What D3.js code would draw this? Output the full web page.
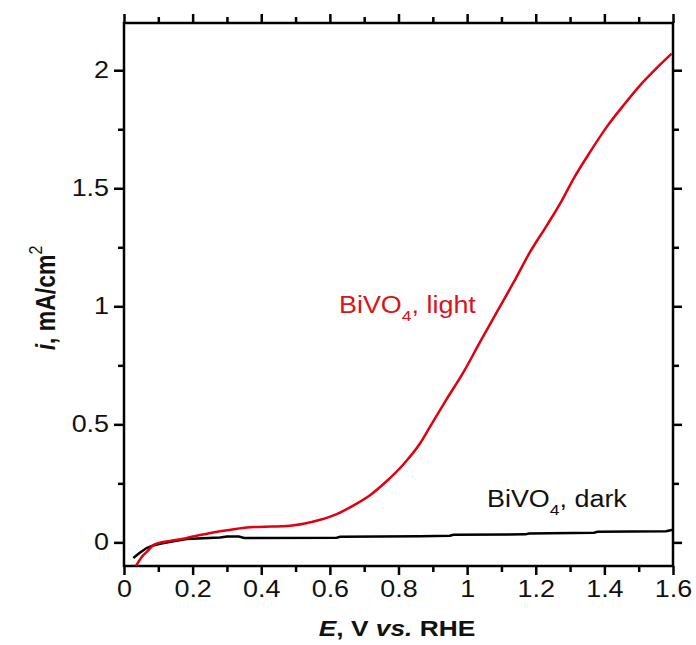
<!DOCTYPE html>
<html><head><meta charset="utf-8">
<script src="https://cdn.jsdelivr.net/npm/d3@7/dist/d3.min.js"></script>
<style>
html,body{margin:0;padding:0;background:#fff;}
svg{display:block;font-family:"Liberation Sans",Arial,Helvetica,sans-serif;}
</style></head>
<body>
<svg id="chart" width="696" height="645"></svg>
<script>
// Data
const lightE = [0.035,0.05,0.07,0.085,0.1,0.134,0.183,0.23,0.28,0.33,0.377,0.43,0.474,0.523,0.572,0.62,0.668,0.717,0.766,0.814,0.863,0.892,0.94,0.989,1.037,1.086,1.135,1.183,1.232,1.276,1.31,1.358,1.407,1.455,1.504,1.553,1.596];
const lightI = [-0.10,-0.065,-0.035,-0.012,-0.003,0.006,0.019,0.033,0.047,0.058,0.065,0.067,0.069,0.079,0.096,0.12,0.156,0.20,0.26,0.33,0.42,0.49,0.606,0.72,0.847,0.974,1.10,1.229,1.342,1.448,1.54,1.653,1.76,1.85,1.936,2.01,2.07];
const darkE = [0.027,0.045,0.066,0.085,0.105,0.14,0.183,0.23,0.28,0.3,0.335,0.35,0.62,0.63,0.863,0.95,0.96,1.17,1.18,1.37,1.38,1.58,1.6];
const darkI = [-0.066,-0.045,-0.024,-0.013,-0.006,0.004,0.014,0.018,0.021,0.025,0.025,0.019,0.02,0.024,0.026,0.028,0.032,0.034,0.038,0.041,0.045,0.047,0.054];
const xMajorTicks = [0,0.2,0.4,0.6,0.8,1,1.2,1.4,1.6];
const xMinorTicks = [0.1,0.3,0.5,0.7,0.9,1.1,1.3,1.5];
const yMajorTicks = [0,0.5,1,1.5,2];
const yMinorTicks = [0.25,0.75,1.25,1.75];

const SX = 1.17; // horizontal stretch of the original figure's lettering
const svg = d3.select("#chart");
const L = 124, R = 673, T = 23, B = 566;
const x = d3.scaleLinear().domain([0,1.6]).range([L,R]);
const y = d3.scaleLinear().domain([-0.1,2.2]).range([B,T]);
const fmt = d => d3.format("")(d);

function styleAxis(g){
  g.select(".domain").remove();
  g.selectAll(".tick line").attr("stroke","#000").attr("stroke-width",2.5);
  g.selectAll(".tick text").attr("font-size",23).attr("fill","#111")
    .attr("font-family","'Liberation Sans',Arial,sans-serif")
    .each(function(){
      const t = d3.select(this);
      const xv = +t.attr("x") || 0;
      t.attr("x", xv / SX).attr("transform",`scale(${SX},1)`);
    });
}
// bottom
svg.append("g").attr("transform",`translate(0,${B})`)
  .call(d3.axisBottom(x).tickValues(xMajorTicks).tickSize(9).tickPadding(6).tickFormat(fmt)).call(styleAxis);
svg.append("g").attr("transform",`translate(0,${B})`)
  .call(d3.axisBottom(x).tickValues(xMinorTicks).tickSize(6).tickFormat("")).call(styleAxis);
// top
svg.append("g").attr("transform",`translate(0,${T})`)
  .call(d3.axisTop(x).tickValues(xMajorTicks).tickSize(9).tickFormat("")).call(styleAxis);
svg.append("g").attr("transform",`translate(0,${T})`)
  .call(d3.axisTop(x).tickValues(xMinorTicks).tickSize(6).tickFormat("")).call(styleAxis);
// left
svg.append("g").attr("transform",`translate(${L},0)`)
  .call(d3.axisLeft(y).tickValues(yMajorTicks).tickSize(10).tickPadding(5).tickFormat(fmt)).call(styleAxis);
svg.append("g").attr("transform",`translate(${L},0)`)
  .call(d3.axisLeft(y).tickValues(yMinorTicks).tickSize(6).tickFormat("")).call(styleAxis);
// right
svg.append("g").attr("transform",`translate(${R},0)`)
  .call(d3.axisRight(y).tickValues(yMajorTicks).tickSize(9).tickFormat("")).call(styleAxis);
svg.append("g").attr("transform",`translate(${R},0)`)
  .call(d3.axisRight(y).tickValues(yMinorTicks).tickSize(6).tickFormat("")).call(styleAxis);

// frame
svg.append("rect").attr("x",L).attr("y",T).attr("width",R-L).attr("height",B-T)
  .attr("fill","none").attr("stroke","#000").attr("stroke-width",2.5);

svg.append("clipPath").attr("id","clip").append("rect")
  .attr("x",L).attr("y",T).attr("width",R-L).attr("height",B-T);

const darkData = darkE.map((e,i)=>[e,darkI[i]]);
const lightData = lightE.map((e,i)=>[e,lightI[i]]);
svg.append("path").datum(darkData).attr("clip-path","url(#clip)")
  .attr("d",d3.line().x(d=>x(d[0])).y(d=>y(d[1])).curve(d3.curveLinear))
  .attr("fill","none").attr("stroke","#000").attr("stroke-width",2.5);
svg.append("path").datum(lightData).attr("clip-path","url(#clip)")
  .attr("d",d3.line().x(d=>x(d[0])).y(d=>y(d[1])).curve(d3.curveMonotoneX))
  .attr("fill","none").attr("stroke","#e00010").attr("stroke-width",2.5);

// annotations
function label(txt1, sub, txt2, px, py, color){
  const g = svg.append("g").attr("transform",`translate(${px},${py}) scale(${SX},1)`);
  const t = g.append("text").attr("x",0).attr("y",0).attr("fill",color).attr("font-size",23);
  t.append("tspan").text(txt1);
  t.append("tspan").attr("font-size",15).attr("dy",8).text(sub);
  t.append("tspan").attr("dy",-8).text(txt2);
}
label("BiVO","4",", light",339,313,"#d8141c");
label("BiVO","4",", dark",487,507,"#111");

// x title
const xg = svg.append("g").attr("transform",`translate(397,636) scale(${SX},1)`);
const xt = xg.append("text").attr("x",0).attr("y",0).attr("text-anchor","middle")
  .attr("font-size",22.5).attr("font-weight","bold").attr("fill","#111");
xt.append("tspan").attr("font-style","italic").text("E");
xt.append("tspan").text(", V ");
xt.append("tspan").attr("font-style","italic").text("vs.");
xt.append("tspan").text(" RHE");

// y title
const yt = svg.append("text").attr("transform",`translate(55,298) scale(${SX},1) rotate(-90)`)
  .attr("text-anchor","middle").attr("font-size",23).attr("font-weight","bold").attr("fill","#111");
yt.append("tspan").attr("font-style","italic").text("i");
yt.append("tspan").text(", mA/cm");
yt.append("tspan").attr("font-size",16).attr("font-weight","normal").attr("dy",-11).text("2");
</script>
</body></html>
